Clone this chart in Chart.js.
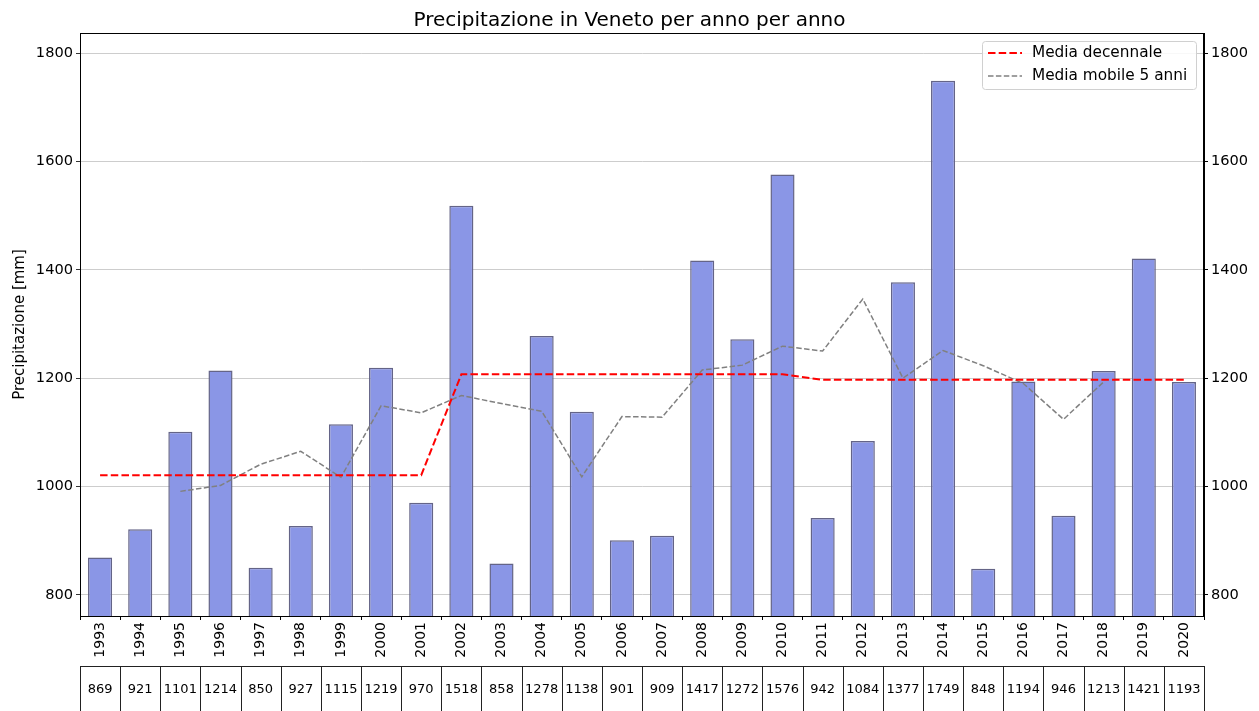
<!DOCTYPE html>
<html>
<head>
<meta charset="utf-8">
<script src="https://cdn.jsdelivr.net/npm/chart.js@4/dist/chart.umd.min.js"></script>
<style>
  html, body { margin: 0; padding: 0; background: #fff; }
  #wrap { width: 1259px; height: 711px; }
</style>
</head>
<body>
<div id="wrap"><canvas id="chart" width="1259" height="711"></canvas></div>
<script>
// anni e precipitazione annua (mm)
const years = ['1993','1994','1995','1996','1997','1998','1999','2000','2001','2002',
  '2003','2004','2005','2006','2007','2008','2009','2010','2011','2012',
  '2013','2014','2015','2016','2017','2018','2019','2020'];
const precip = [869, 921, 1101, 1214, 850, 927, 1115, 1219, 970, 1518,
  858, 1278, 1138, 901, 909, 1417, 1272, 1576, 942, 1084,
  1377, 1749, 848, 1194, 946, 1213, 1421, 1193];
// media per decennio
const decadeMean = [1021, 1021, 1021, 1021, 1021, 1021, 1021, 1021, 1021, 1207,
  1207, 1207, 1207, 1207, 1207, 1207, 1207, 1207, 1197, 1197,
  1197, 1197, 1197, 1197, 1197, 1197, 1197, 1197];
// media mobile centrata su 5 anni
const movingMean = [null, null, 991, 1002, 1041, 1065, 1017, 1149, 1136, 1168,
  1153, 1139, 1018, 1129, 1128, 1215, 1224, 1259, 1250, 1346,
  1200, 1251, 1223, 1190, 1124, 1193, null, null];
const yTicks = [800, 1000, 1200, 1400, 1600, 1800];

const FONT = 'DejaVu Sans';

const extras = {
  id: 'extras',
  afterDraw(chart) {
    const ctx = chart.ctx;
    const a = chart.chartArea;
    const x = chart.scales.x;
    ctx.save();
    // frame
    ctx.strokeStyle = '#000';
    ctx.lineWidth = 1;
    ctx.strokeRect(a.left + 0.5, a.top + 0.5, a.right - a.left - 1, a.bottom - a.top);

    // table under the axis
    const step = x.getPixelForValue(1) - x.getPixelForValue(0);
    const top = 666;
    ctx.strokeStyle = '#222';
    ctx.lineWidth = 1;
    ctx.fillStyle = '#000';
    ctx.font = '13px ' + FONT;
    ctx.textAlign = 'center';
    ctx.textBaseline = 'middle';
    precip.forEach((v, i) => {
      const cx = x.getPixelForValue(i);
      const l = Math.round(cx - step / 2) + 0.5;
      const r = Math.round(cx + step / 2) + 0.5;
      ctx.strokeRect(l, top + 0.5, r - l, 60);
      ctx.fillText(String(v), cx, 690);
    });

    // legend
    const lx = 982, ly = 41, lw = 214, lh = 48;
    ctx.fillStyle = 'rgba(255,255,255,0.85)';
    ctx.strokeStyle = '#d0d0d0';
    ctx.lineWidth = 1;
    ctx.beginPath();
    ctx.roundRect(lx + 0.5, ly + 0.5, lw, lh, 3);
    ctx.fill();
    ctx.stroke();
    const items = [
      { label: 'Media decennale', color: 'red', width: 2, dash: [7.5, 3.2] },
      { label: 'Media mobile 5 anni', color: 'gray', width: 1.5, dash: [5.5, 2.4] }
    ];
    ctx.font = '15.3px ' + FONT;
    ctx.textAlign = 'left';
    items.forEach((it, k) => {
      const yy = 53 + k * 23;
      ctx.strokeStyle = it.color;
      ctx.lineWidth = it.width;
      ctx.setLineDash(it.dash);
      ctx.beginPath();
      ctx.moveTo(988, yy);
      ctx.lineTo(1022, yy);
      ctx.stroke();
      ctx.setLineDash([]);
      ctx.fillStyle = '#000';
      ctx.fillText(it.label, 1032, yy);
    });
    ctx.restore();
  }
};

new Chart(document.getElementById('chart'), {
  data: {
    labels: years,
    datasets: [{
      type: 'line',
      label: 'Media decennale',
      data: decadeMean,
      borderColor: 'red',
      borderWidth: 2,
      borderDash: [7.5, 3.2],
      pointRadius: 0,
      fill: false,
      tension: 0,
      order: 1
    }, {
      type: 'line',
      label: 'Media mobile 5 anni',
      data: movingMean,
      borderColor: 'gray',
      borderWidth: 1.5,
      borderDash: [5.5, 2.4],
      pointRadius: 0,
      fill: false,
      tension: 0,
      spanGaps: false,
      order: 2
    }, {
      type: 'bar',
      label: 'Precipitazione',
      data: precip,
      backgroundColor: 'rgb(138,150,230)',
      borderColor: 'rgb(100,100,135)',
      borderWidth: 1.5,
      barPercentage: 0.6,
      categoryPercentage: 1,
      order: 3
    }]
  },
  options: {
    responsive: false,
    animation: false,
    events: [],
    layout: { padding: { left: 0, right: 0, top: 0, bottom: 45 } },
    plugins: {
      legend: { display: false },
      tooltip: { enabled: false },
      title: {
        display: true,
        text: 'Precipitazione in Veneto per anno per anno',
        color: '#000',
        font: { family: FONT, size: 20, weight: 'normal', lineHeight: 1.2 },
        padding: { top: 9, bottom: 0 }
      }
    },
    scales: {
      x: {
        type: 'category',
        offset: true,
        grid: { display: true, drawOnChartArea: false, tickLength: 4, tickColor: '#000' },
        border: { display: true, color: '#000' },
        ticks: {
          color: '#000', font: { family: FONT, size: 14 },
          minRotation: 90, maxRotation: 90, autoSkip: false, padding: 2
        },
        afterFit(s) { s.height = 50; }
      },
      y: {
        position: 'left',
        min: 761, max: 1837,
        afterBuildTicks(s) { s.ticks = yTicks.map(v => ({ value: v })); },
        grid: { color: '#c0c0c0', lineWidth: 0.8, tickColor: '#000', tickLength: 4 },
        border: { display: true, color: '#000' },
        ticks: {
          color: '#000', font: { family: FONT, size: 14.6 }, padding: 3,
          callback: v => String(v)
        },
        title: {
          display: true, text: 'Precipitazione [mm]', color: '#000',
          font: { family: FONT, size: 15 }, padding: { top: 11, bottom: 0 }
        },
        afterFit(s) { s.width = 80; }
      },
      y2: {
        position: 'right',
        min: 761, max: 1837,
        afterBuildTicks(s) { s.ticks = yTicks.map(v => ({ value: v })); },
        grid: { drawOnChartArea: false, tickColor: '#000', tickLength: 4 },
        border: { display: true, color: '#000' },
        ticks: {
          color: '#000', font: { family: FONT, size: 14.6 }, padding: 3,
          callback: v => String(v)
        },
        afterFit(s) { s.width = 55; }
      }
    }
  },
  plugins: [extras]
});
</script>
</body>
</html>
